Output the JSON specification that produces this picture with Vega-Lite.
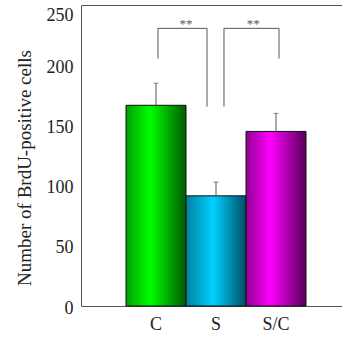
{
  "$schema": "https://vega.github.io/schema/vega-lite/v6.json",
  "width": 261,
  "height": 301,
  "autosize": {"type": "none"},
  "padding": {"left": 81, "top": 5, "right": 0, "bottom": 32},
  "background": "white",
  "config": {"view": {"stroke": null}, "font": "Liberation Serif",
             "axis": {"labelFont": "Liberation Serif", "titleFont": "Liberation Serif"}},
  "datasets": {
    "bars": [
      {"group": "C", "mean": 166.7, "upper": 185},
      {"group": "S", "mean": 91.5, "upper": 103},
      {"group": "S/C", "mean": 145, "upper": 160}
    ],
    "segments": [
      {"x1": 1.283, "y1": 205.6, "x2": 1.283, "y2": 230.6},
      {"x1": 1.283, "y1": 230.6, "x2": 2.1, "y2": 230.6},
      {"x1": 2.1, "y1": 230.6, "x2": 2.1, "y2": 165.6},
      {"x1": 2.383, "y1": 165.6, "x2": 2.383, "y2": 230.6},
      {"x1": 2.383, "y1": 230.6, "x2": 3.3, "y2": 230.6},
      {"x1": 3.3, "y1": 230.6, "x2": 3.3, "y2": 205.6}
    ],
    "stars": [
      {"x": 1.75, "y": 230.6, "label": "**"},
      {"x": 2.87, "y": 230.6, "label": "**"}
    ]
  },
  "layer": [
    {
      "data": {"name": "bars"},
      "encoding": {
        "x": {
          "field": "group", "type": "nominal", "sort": ["C", "S", "S/C"],
          "scale": {"type": "band", "paddingInner": 0, "paddingOuter": 0.675, "align": 0.5556},
          "axis": {"title": null, "labelAngle": 0, "ticks": false, "tickSize": 0, "labelPadding": 9,
                   "labelFontSize": 18, "labelColor": "#222", "domainColor": "#555", "grid": false}
        },
        "y": {
          "field": "mean", "type": "quantitative",
          "scale": {"domain": [0, 250], "nice": false},
          "axis": {"orient": "left", "title": "Number of BrdU-positive cells", "values": [0, 50, 100, 150, 200, 250],
                   "grid": false, "ticks": false, "tickSize": 0, "labelPadding": 8,
                   "labelFontSize": 18, "labelColor": "#222", "domainColor": "#555",
                   "labelOffset": {"condition": {"test": "datum.value == 250", "value": 10}, "value": 2},
                   "titleFontSize": 19, "titleFontWeight": "normal", "titleColor": "#222",
                   "titleAngle": 270, "titleAlign": "center", "titleBaseline": "alphabetic",
                   "titleX": -51, "titleY": 162.5}
        }
      },
      "layer": [
        {"transform": [{"filter": "datum.group == 'C'"}],
         "mark": {"type": "bar", "stroke": "#111", "strokeWidth": 1,
                  "fill": {"gradient": "linear", "x1": 0, "y1": 0, "x2": 1, "y2": 0,
                           "stops": [{"offset": 0, "color": "#00a000"}, {"offset": 0.4, "color": "#00ff00"}, {"offset": 1, "color": "#005a00"}]}}},
        {"transform": [{"filter": "datum.group == 'S'"}],
         "mark": {"type": "bar", "stroke": "#111", "strokeWidth": 1,
                  "fill": {"gradient": "linear", "x1": 0, "y1": 0, "x2": 1, "y2": 0,
                           "stops": [{"offset": 0, "color": "#00809f"}, {"offset": 0.45, "color": "#00d0ff"}, {"offset": 1, "color": "#004f66"}]}}},
        {"transform": [{"filter": "datum.group == 'S/C'"}],
         "mark": {"type": "bar", "stroke": "#111", "strokeWidth": 1,
                  "fill": {"gradient": "linear", "x1": 0, "y1": 0, "x2": 1, "y2": 0,
                           "stops": [{"offset": 0, "color": "#900090"}, {"offset": 0.4, "color": "#ff00ff"}, {"offset": 1, "color": "#580058"}]}}},
        {"mark": {"type": "rule", "color": "#555", "strokeWidth": 1},
         "encoding": {"y2": {"field": "upper"}}},
        {"mark": {"type": "tick", "color": "#555", "size": 5, "thickness": 1, "orient": "horizontal"},
         "encoding": {"y": {"field": "upper", "type": "quantitative"}}}
      ]
    },
    {
      "layer": [
        {"data": {"name": "segments"},
         "mark": {"type": "rule", "color": "#555", "strokeWidth": 1},
         "encoding": {
           "x": {"field": "x1", "type": "quantitative",
                 "scale": {"domain": [0, 4.35], "nice": false, "zero": false},
                 "axis": {"orient": "top", "title": null, "labels": false, "ticks": false, "tickSize": 0, "grid": false, "domainColor": "#555"}},
           "x2": {"field": "x2"},
           "y": {"field": "y1", "type": "quantitative",
                 "axis": {"orient": "right", "title": null, "labels": false, "ticks": false, "domain": false, "grid": false}},
           "y2": {"field": "y2"}
         }},
        {"data": {"name": "stars"},
         "mark": {"type": "text", "color": "#555", "fontSize": 13, "baseline": "alphabetic", "align": "center", "font": "Liberation Serif"},
         "encoding": {
           "x": {"field": "x", "type": "quantitative"},
           "y": {"field": "y", "type": "quantitative"},
           "text": {"field": "label"}
         }}
      ]
    }
  ],
  "resolve": {"scale": {"x": "independent"}, "axis": {"y": "independent"}}
}
